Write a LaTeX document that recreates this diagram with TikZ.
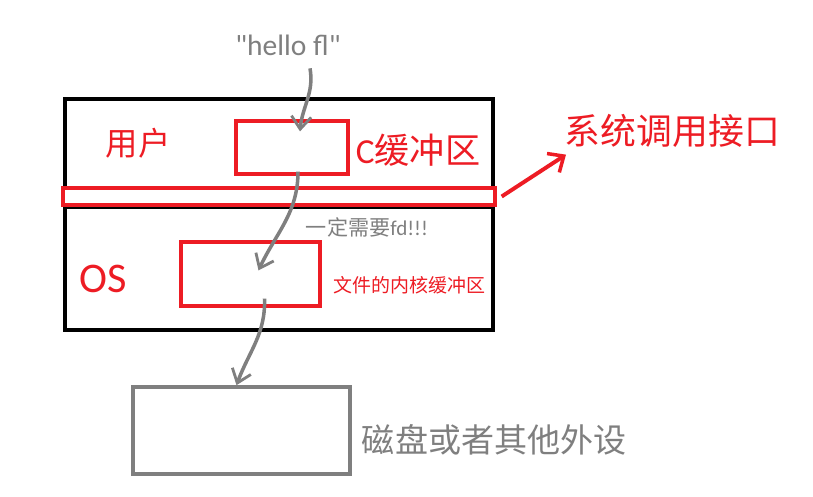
\documentclass[tikz,border=0pt]{standalone}
\usepackage{fontspec}
\setmainfont{Carlito}
\newfontfamily\cjk{Noto Sans CJK SC}
\usepackage{tikz}
\usetikzlibrary{arrows.meta,calc}

\definecolor{pred}{HTML}{ED1C24}
\definecolor{pgray}{HTML}{7F7F7F}

\begin{document}
\begin{tikzpicture}[
    x=0.025cm, y=-0.025cm,
    blk/.style={draw=black, line width=3pt, minimum width=10.7cm},
    rbox/.style={draw=pred, line width=2.3pt},
    gbox/.style={draw=pgray, line width=2.6pt},
    rtxt/.style={text=pred, font=\cjk\fontsize{18}{18}\selectfont},
    gtxt/.style={text=pgray, font=\cjk\fontsize{23.5}{23.5}\selectfont},
    garr/.style={-{Straight Barb[length=9pt,width=14pt,line width=2pt]}, line width=2.5pt, pgray},
    rarr/.style={-{Straight Barb[length=9pt,width=16pt,line width=2.5pt]}, line width=2.8pt, pred}
]
\useasboundingbox (0,0) rectangle (813,496);

% user space and kernel
\node[blk, minimum height=2.225cm] (user) at (279,143.5) {};
\node[blk, minimum height=3.075cm] (os) at (279,268.5) {};
\node[rbox, minimum width=10.8cm, minimum height=0.425cm] (bar) at (279,196.5) {};

\node[rbox, minimum width=2.8cm, minimum height=1.325cm] (cbuf) at (292,147.5) {};
\node[rbox, minimum width=3.475cm, minimum height=1.6cm] (kbuf) at (250.5,274) {};
\node[gbox, minimum width=5.425cm, minimum height=2.175cm] (disk) at (241.5,430.5) {};

% labels
\node[text=pgray, font=\fontsize{21}{21}\selectfont] (hello) at (288,45) {\textquotedbl hello fl\textquotedbl};
\node[rtxt, font=\cjk\fontsize{23}{23}\selectfont] (userl) at (138,143) {用户};
\node[rtxt, anchor=west, font=\fontsize{25}{25}\selectfont] (cbufl) at (351,150) {C{\cjk 缓冲区}};
\node[rtxt, anchor=west, font=\cjk\fontsize{25.5}{25.5}\selectfont] (sysl) at (560,131) {系统调用接口};
\node[text=pgray, anchor=west, font=\fontsize{15}{15}\selectfont] (fdl) at (301,227) {{\cjk 一定需要}fd!!!};
\node[text=pred, font=\fontsize{30}{30}\selectfont] (osl) at (103,279) {OS};
\node[rtxt, anchor=west, font=\cjk\fontsize{13.5}{13.5}\selectfont] (kbufl) at (329,285) {文件的内核缓冲区};
\node[gtxt, anchor=west] (diskl) at (357,440) {磁盘或者其他外设};

% data path
\draw[garr] ($(hello.south)+(22,8)$) to[out=-80,in=85] ($(cbuf.north)+(8,12)$);
\draw[garr] ($(cbuf.south)+(6,-4)$) to[out=-90,in=65] ($(kbuf.north)+(8,30)$);
\draw[garr] ($(kbuf.south)+(14,-9)$) to[out=-88,in=70] ($(disk.north)+(-5,0)$);
\draw[rarr] ($(bar.east)+(5,0)$) -- ($(sysl.south west)+(6,2)$);
\end{tikzpicture}
\end{document}
